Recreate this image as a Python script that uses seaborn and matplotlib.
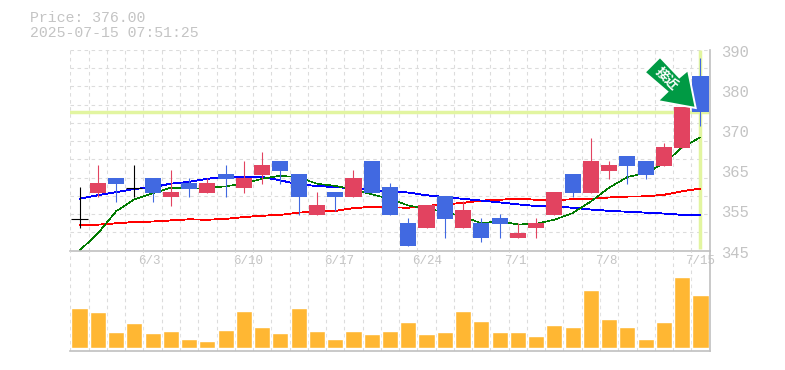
import matplotlib
matplotlib.use("Agg")
import matplotlib.pyplot as plt
from matplotlib.patches import Polygon
import numpy as np
import pandas as pd
import seaborn as sns

# candle values
opens = [352.1, 357.9, 361.2, 359.1, 361.2, 356.9, 360.1, 357.8, 362.1, 359.0, 361.9, 365.0, 362.1, 352.9, 358.05, 356.9, 365.0,
         359.2, 351.1, 350.0, 357.15, 350.0, 351.1, 352.2, 347.9, 350.0, 352.9, 362.1, 357.8, 362.8, 366.15, 365.0, 363.9, 368.0, 384.15]
closes = [352.1, 360.1, 359.85, 359.1, 357.9, 358.05, 358.7, 360.1, 361.0, 361.2, 364.1, 362.8, 356.9, 355.1, 356.9, 361.2, 357.8,
          352.9, 345.9, 355.1, 352.0, 354.0, 347.9, 350.85, 349.0, 351.1, 358.05, 357.8, 365.0, 364.1, 363.9, 361.9, 368.2, 377.1, 376.0]
highs = [359.2, 364.1, 361.2, 364.1, 361.2, 363.0, 361.2, 361.2, 364.1, 365.0, 367.0, 365.0, 362.1, 358.05, 358.05, 363.0, 365.0,
         360.1, 352.2, 355.1, 357.15, 356.0, 352.2, 353.1, 351.1, 352.2, 358.05, 362.1, 370.2, 365.0, 366.15, 365.0, 369.1, 377.1, 388.2]
lows = [350.0, 357.0, 355.8, 357.0, 355.8, 354.9, 357.0, 357.8, 357.0, 357.8, 359.85, 359.85, 352.9, 352.9, 353.8, 356.9, 357.8,
        352.9, 345.9, 350.0, 347.9, 350.0, 346.8, 347.9, 347.9, 347.9, 352.9, 357.0, 357.8, 361.0, 359.85, 361.0, 363.9, 368.0, 372.9]
ma_short = [345.0, 348.8, 353.8, 356.5, 357.8, 359.1, 358.9, 359.0, 359.4, 360.0, 361.1, 361.8, 361.4, 360.0, 359.5, 358.7, 357.6,
            356.6, 355.1, 354.4, 353.6, 352.65, 351.1, 351.6, 350.85, 351.0, 351.9, 353.4, 356.0, 359.1, 361.5, 362.4, 364.5, 368.2, 370.4]
ma_mid = [356.6, 357.4, 358.1, 358.8, 359.2, 360.0, 360.4, 361.1, 361.5, 361.5, 361.5, 360.75, 359.8, 359.5, 359.2, 359.0, 358.5,
          358.3, 358.0, 357.4, 357.0, 356.6, 356.2, 355.8, 355.35, 355.0, 354.9, 354.6, 354.2, 353.9, 353.7, 353.5, 353.3, 353.0, 353.0]
ma_long = [350.7, 350.8, 351.1, 351.4, 351.5, 351.75, 352.0, 351.9, 352.1, 352.5, 352.8, 353.0, 353.5, 353.7, 353.9, 354.5, 354.8,
           354.7, 354.6, 355.0, 355.35, 355.7, 356.2, 356.4, 356.6, 356.4, 356.3, 356.5, 356.6, 356.9, 357.1, 357.15, 357.5, 358.3, 358.9]
volume = [40, 36, 16, 25, 15, 17, 9, 7, 18, 37, 21, 15, 40, 17, 9, 17, 14, 17,
          26, 14, 16, 37, 27, 16, 16, 12, 23, 21, 58, 29, 21, 9, 26, 71, 53]
date_idx = [4, 9, 14, 19, 24, 29, 34]
date_labels = ["6/3", "6/10", "6/17", "6/24", "7/1", "7/8", "7/15"]
price_ticks = [345, 354, 363, 372, 381, 390]
price_labels = ["345", "355", "365", "370", "380", "390"]
last_price = 376.0

W, H = 785, 370
GRID = "#dcdcdc"
AXIS = "#c0c0c0"
TXT = "#c4c4c4"
RED = "#e24360"
BLUE = "#4169e1"
HILITE = "#e2f5a0"
MONO = "Liberation Mono"
PX = 0.72  # one pixel in points at dpi 100
DASH = (0, (3.2, 3.2))

sns.set_style("white")
plt.rcParams["font.family"] = [MONO, "Noto Sans CJK JP", "DejaVu Sans"]

df = pd.DataFrame({"i": range(len(opens)), "o": opens, "c": closes, "h": highs, "l": lows,
                   "short": ma_short, "mid": ma_mid, "long": ma_long, "vol": volume})
n = len(df)

fig = plt.figure(figsize=(W / 100, H / 100), dpi=100)
L, R = 70.4 / W, 709.6 / W
ax = fig.add_axes([L, 1 - 250.5 / H, R - L, 200.5 / H])
axv = fig.add_axes([L, 1 - 350.5 / H, R - L, 100 / H])


def grid_up(a):
    a.set_xlim(-0.5, n - 0.5)
    a.set_xticks(np.arange(-0.5, n, 1))
    a.tick_params(length=0, labelbottom=False, labelleft=False)
    a.grid(True, axis="x", color=GRID, ls=DASH, lw=PX * 1.1)
    a.set_axisbelow(True)
    a.set_xlabel("")
    a.set_ylabel("")
    for s in ["top", "left"]:
        a.spines[s].set_visible(False)
    for s in ["bottom", "right"]:
        a.spines[s].set_color(AXIS)
        a.spines[s].set_linewidth(1.2)
    a.patch.set_alpha(0)


# volume
sns.barplot(data=df, x="i", y="vol", color="#ffb733", width=0.88, saturation=1, ax=axv, native_scale=True)
axv.set_ylim(-3, 97)
grid_up(axv)
axv.set_yticks([])

# price panel
ax.set_ylim(345, 390)
ax.hlines(np.arange(345, 390.1, 45 / 11), -0.5, n - 0.5, color=GRID, ls=DASH, lw=PX * 1.1, zorder=0.5)
ax.axhline(last_price, color=HILITE, lw=2.5, zorder=1)
ax.vlines(n - 1, 345.4, 390, color=HILITE, lw=2.5, zorder=1)
sns.lineplot(data=df, x="i", y="long", color="#ff0000", lw=0.6, ax=ax, zorder=2, antialiased=False)
sns.lineplot(data=df, x="i", y="mid", color="#0000ff", lw=0.6, ax=ax, zorder=2, antialiased=False)
sns.lineplot(data=df, x="i", y="short", color="#007a00", lw=0.4, ax=ax, zorder=2, antialiased=False)
grid_up(ax)

for _, r in df.iterrows():
    top, bot = max(r.o, r.c), min(r.o, r.c)
    col = "#000000" if r.o == r.c else (RED if r.c > r.o else BLUE)
    ax.vlines(r.i, r.l, r.h, color=col, lw=PX * 1.1, zorder=3)
    if r.o == r.c:
        ax.hlines(r.o, r.i - 0.44, r.i + 0.44, color=col, lw=PX * 1.1, zorder=3)
    else:
        ax.bar(r.i, top - bot, bottom=bot, width=0.88, color=col, lw=0, zorder=3)

# price axis labels
for t, lab in zip(price_ticks, price_labels):
    ax.annotate(lab, (1, t), xycoords=("axes fraction", "data"), xytext=(11, -2.5), textcoords="offset pixels",
                ha="left", va="center", fontsize=11.2, color=TXT)
date_shift = [-3, 4, 4, 1, -3, -3, 0]
for i, lab, dx in zip(date_idx, date_labels, date_shift):
    ax.annotate(lab, (i, 345), xycoords="data", xytext=(dx, -10), textcoords="offset pixels",
                ha="center", va="center", fontsize=9, color=TXT, annotation_clip=False)

fig.text(29.5 / W, 1 - 18 / H, "Price: %.2f" % last_price, fontsize=10.7, color=TXT, va="center")
fig.text(29.5 / W, 1 - 33 / H, "2025-07-15 07:51:25", fontsize=10.7, color=TXT, va="center")

# badge arrow
arrow_px = [(644.7, 72.3), (660, 57), (679.3, 77.3), (688, 70), (695.7, 108), (657.7, 101), (667.3, 91.7)]
arrow_fig = [(x / W, 1 - y / H) for x, y in arrow_px]
fig.add_artist(Polygon(arrow_fig, closed=True, transform=fig.transFigure, fc="#009a44", ec="white", lw=1.4, joinstyle="miter", zorder=10))
fig.text(666.3 / W, 1 - 78.3 / H, "接近", rotation=-45, rotation_mode="anchor", ha="center", va="center", fontsize=9.5,
         fontweight="bold", color="white", family=["Noto Sans CJK JP"], zorder=11)

fig.savefig("out.png", dpi=100, facecolor="white")
